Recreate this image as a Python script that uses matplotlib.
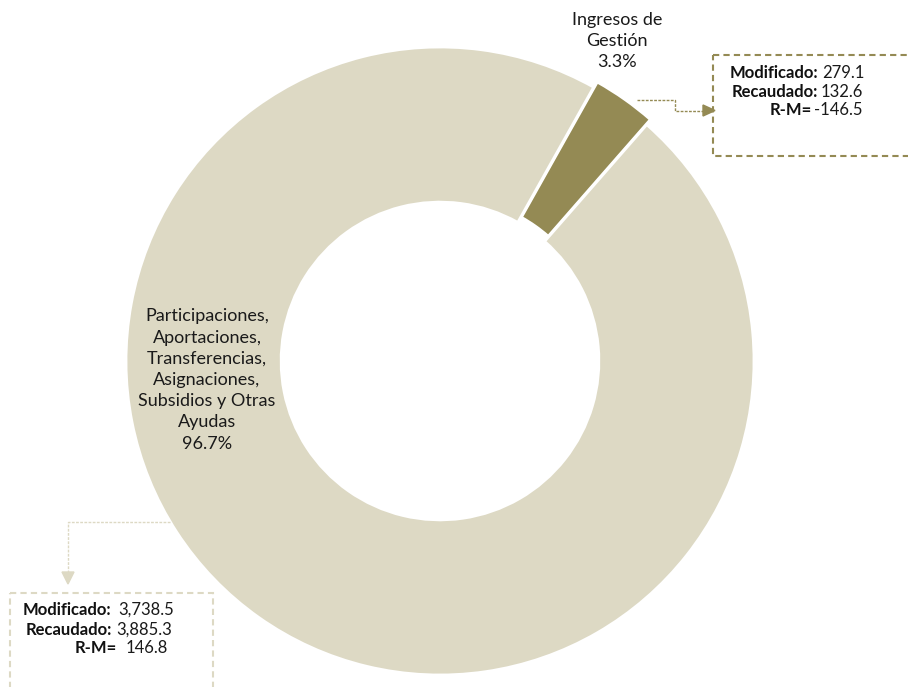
import matplotlib.pyplot as plt
from matplotlib.patches import Rectangle, Polygon

plt.rcParams['font.family'] = ['Lato', 'DejaVu Sans']

# data
categories = ["Ingresos de\nGestión",
              "Participaciones,\nAportaciones,\nTransferencias,\nAsignaciones,\nSubsidios y Otras\nAyudas"]
modificado = [279.1, 3738.5]
recaudado = [132.6, 3885.3]
colors = ["#948A54", "#DDD9C4"]

total = sum(recaudado)
pcts = [v / total * 100 for v in recaudado]
diffs = [r - m for r, m in zip(recaudado, modificado)]

W, H = 908, 687
fig = plt.figure(figsize=(W / 100, H / 100), dpi=100)

# donut: center (440, 361) px, radius 314 px
cx, cy, r = 440, 361, 314
ax = fig.add_axes([(cx - r) / W, (H - cy - r) / H, 2 * r / W, 2 * r / H])
wedges, _ = ax.pie(recaudado, colors=colors, startangle=60.7, counterclock=False,
                   explode=[0.02, 0],
                   wedgeprops=dict(width=0.494, edgecolor='white', linewidth=2))
ax.set_xlim(-1, 1)
ax.set_ylim(-1, 1)
for w in wedges:
    w.set_clip_on(False)

# overlay in pixel coords for labels and callouts
ov = fig.add_axes([0, 0, 1, 1])
ov.set_xlim(0, W)
ov.set_ylim(H, 0)
ov.axis('off')
ov.patch.set_alpha(0)

txt = '#1a1a1a'
ov.text(617, 41, f"{categories[0]}\n{pcts[0]:.1f}%", ha='center', va='center',
        fontsize=13, linespacing=1.4, color=txt)
ov.text(207, 380, f"{categories[1]}\n{pcts[1]:.1f}%", ha='center', va='center',
        fontsize=13, linespacing=1.4, color=txt)

# top-right callout
olive, beige = colors
ov.plot([637, 675, 675, 703], [100, 100, 110.5, 110.5], color=olive, lw=1, ls=(0, (2, 1)))
ov.add_patch(Polygon([(703, 105), (715, 110.5), (703, 116)], color=olive))
ov.add_patch(Rectangle((713, 55), 250, 101, fill=False, ec=olive, lw=1.5, ls=(0, (3, 2))))

# bottom-left callout
ov.plot([170, 68, 68], [522, 522, 572], color=beige, lw=1, ls=(0, (2, 1)))
ov.add_patch(Polygon([(62, 572), (74, 572), (68, 584)], color=beige))
ov.add_patch(Rectangle((10, 593), 203, 120, fill=False, ec=beige, lw=1.5, ls=(0, (3, 2))))


def fmt(v):
    return f"{v:,.1f}"


boxes = [
    # (label right x per line, value left x per line, y per line)
    ([818, 818, 812], [822, 821, 814], [73, 92, 110]),
    ([111, 112, 117], [118, 116, 126], [610, 630, 648]),
]
for i, (lx, vx, ys) in enumerate(boxes):
    names = ["Modificado:", "Recaudado:", "R-M="]
    vals = [fmt(modificado[i]), fmt(recaudado[i]), fmt(diffs[i])]
    for n, v, x1, x2, y in zip(names, vals, lx, vx, ys):
        ov.text(x1, y, n, ha='right', va='center', fontsize=12, fontweight='bold', color='#111111')
        ov.text(x2, y, v, ha='left', va='center', fontsize=12, color=txt)

fig.savefig("out.png", dpi=100)
